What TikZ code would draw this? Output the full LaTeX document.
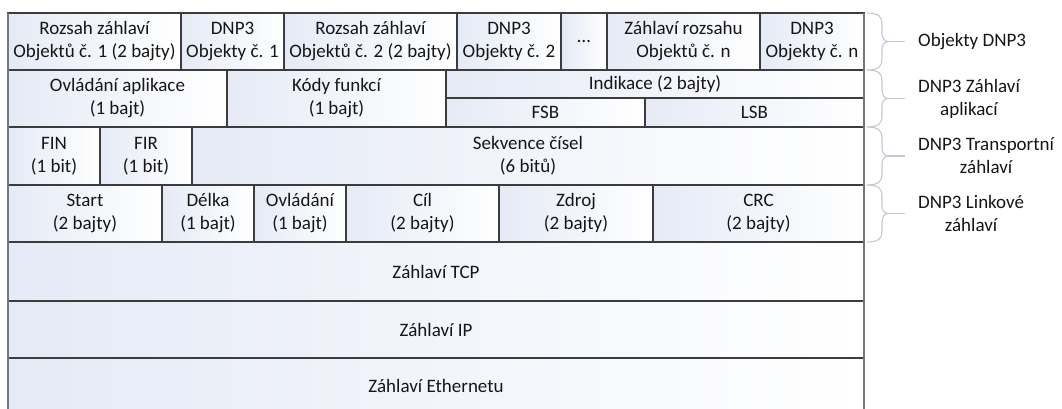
\documentclass[tikz,border=0pt]{standalone}
\usepackage{fontspec}
\setmainfont{Carlito}
\definecolor{cellblue}{RGB}{229,234,246}
\definecolor{linec}{RGB}{60,60,60}
\definecolor{framec}{RGB}{118,118,118}
\definecolor{bracec}{RGB}{196,202,212}
\definecolor{txt}{RGB}{22,22,22}
\tikzset{
  cellbox/.style={draw=linec, line width=1.3pt, left color=cellblue, right color=white,
    inner sep=0pt, outer sep=0pt, align=center, text=txt,
    font=\fontsize{19}{23}\selectfont},
  openbox/.style={left color=cellblue, right color=white,
    inner sep=0pt, outer sep=0pt, align=center, text=txt,
    font=\fontsize{19}{23}\selectfont},
  bracestyle/.style={draw=bracec, line width=1.1pt},
  labeltext/.style={align=center, text=txt, anchor=west, inner sep=0pt,
    font=\fontsize{19}{23}\selectfont},
}
\newcommand{\cellat}[6]{%
  \node[cellbox, minimum width={(#4-#2)*1pt}, minimum height={(#5-#3)*1pt}]
    (#1) at ({(#2+#4)/2},{(#3+#5)/2}) {#6};}
\newcommand{\bracefor}[3]{%
  \pgfmathsetmacro{\ym}{(#2+#3)/2}
  \draw[bracestyle] (867,#2) .. controls (879,#2) and (882,#2+4) .. (882,#2+11)
    -- (882,\ym-8) .. controls (882,\ym-3) and (885,\ym) .. (888,\ym)
    .. controls (885,\ym) and (882,\ym+3) .. (882,\ym+8)
    -- (882,#3-11) .. controls (882,#3-4) and (879,#3) .. (867,#3);
  \coordinate (#1) at (888,\ym);}
\begin{document}
\begin{tikzpicture}[x=1pt,y=-1pt]
\path[use as bounding box, clip] (0,0) rectangle (1062,409);
\fill[white] (0,0) rectangle (1062,409);
% row 1
\cellat{oh1}{8}{13}{181}{70}{Rozsah záhlaví\\Objektů č. 1 (2 bajty)}
\cellat{ob1}{181}{13}{284}{70}{DNP3\\Objekty č. 1}
\cellat{oh2}{284}{13}{457}{70}{Rozsah záhlaví\\Objektů č. 2 (2 bajty)}
\cellat{ob2}{457}{13}{561}{70}{DNP3\\Objekty č. 2}
\cellat{dots}{561}{13}{607}{70}{…}
\cellat{ohn}{607}{13}{760}{70}{Záhlaví rozsahu\\Objektů č. n}
\cellat{obn}{760}{13}{864}{70}{DNP3\\Objekty č. n}
% row 2
\cellat{actl}{8}{70}{227}{127}{Ovládání aplikace\\(1 bajt)}
\cellat{fc}{227}{70}{446}{127}{Kódy funkcí\\(1 bajt)}
\cellat{ind}{446}{70}{864}{98}{Indikace (2 bajty)}
\cellat{fsb}{446}{98}{645}{127}{FSB}
\cellat{lsb}{645}{98}{864}{127}{LSB}
% row 3
\cellat{fin}{8}{127}{100}{185}{FIN\\(1 bit)}
\cellat{fir}{100}{127}{192}{185}{FIR\\(1 bit)}
\cellat{seq}{192}{127}{864}{185}{Sekvence čísel\\(6 bitů)}
% row 4
\cellat{start}{8}{185}{162}{242}{Start\\(2 bajty)}
\cellat{len}{162}{185}{254}{242}{Délka\\(1 bajt)}
\cellat{lctl}{254}{185}{346}{242}{Ovládání\\(1 bajt)}
\cellat{dst}{346}{185}{499}{242}{Cíl\\(2 bajty)}
\cellat{src}{499}{185}{653}{242}{Zdroj\\(2 bajty)}
\cellat{crc}{653}{185}{864}{242}{CRC\\(2 bajty)}
% rows 5-7
\cellat{tcp}{8}{242}{864}{301}{Záhlaví TCP}
\cellat{ip}{8}{301}{864}{358}{Záhlaví IP}
\node[openbox, minimum width=856pt, minimum height=56pt] (eth) at (436,386) {Záhlaví Ethernetu};
\draw[linec, line width=1.3pt] (eth.north west) -- (eth.north east);
% outer frame
\draw[framec, line width=2pt] (oh1.north west) -- (8,409);
\draw[framec, line width=2pt] (obn.north east) -- (864,409);
% braces and labels
\bracefor{b1}{13}{70}
\bracefor{b2}{70}{127}
\bracefor{b3}{127}{185}
\bracefor{b4}{185}{242}
\node[labeltext] (l1) at (918,41.5) {Objekty DNP3};
\node[labeltext] (l2) at (918,98.5) {DNP3 Záhlaví\\aplikací};
\node[labeltext] (l3) at (918,156) {DNP3 Transportní\\záhlaví};
\node[labeltext] (l4) at (918,213.5) {DNP3 Linkové\\záhlaví};
\draw[bracestyle] (b1) -- ++(17,0);
\draw[bracestyle] (b2) -- ++(17,0);
\draw[bracestyle] (b3) -- ++(17,0);
\draw[bracestyle] (b4) -- ++(17,0);
\end{tikzpicture}
\end{document}
